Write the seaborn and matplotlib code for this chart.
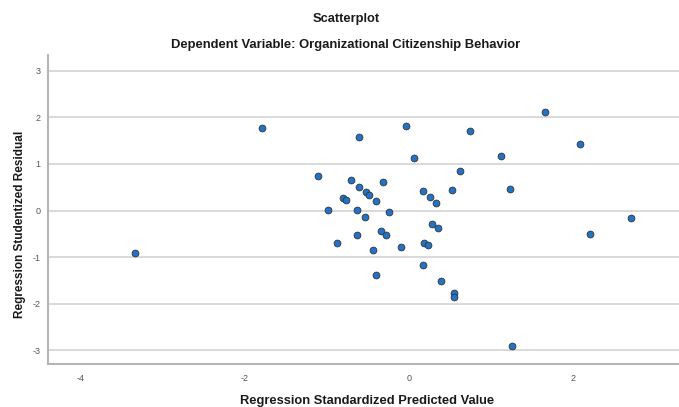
import pandas as pd
import matplotlib.pyplot as plt
import seaborn as sns

# valores
pred_std = [-3.33, -1.79, -1.11, -0.99, -0.88, -0.80, -0.76, -0.70, -0.63, -0.63,
            -0.61, -0.61, -0.53, -0.52, -0.48, -0.44, -0.40, -0.40, -0.34, -0.31,
            -0.28, -0.24, -0.09, -0.04, 0.06, 0.17, 0.17, 0.18, 0.23, 0.26,
            0.28, 0.33, 0.35, 0.39, 0.52, 0.55, 0.55, 0.62, 0.74, 1.12,
            1.23, 1.26, 1.66, 2.09, 2.21, 2.71]
resid_stud = [-0.91, 1.77, 0.74, 0.02, -0.69, 0.27, 0.22, 0.65, 0.01, -0.52,
              1.57, 0.51, -0.14, 0.39, 0.33, -0.85, 0.21, -1.38, -0.43, 0.61,
              -0.52, -0.04, -0.79, 1.82, 1.12, 0.42, -1.17, -0.70, -0.74, 0.29,
              -0.29, 0.17, -0.38, -1.52, 0.44, -1.76, -1.85, 0.85, 1.70, 1.18,
              0.46, -2.91, 2.11, 1.43, -0.51, -0.16]
x_ticks = [-4, -2, 0, 2]
y_ticks = [-3, -2, -1, 0, 1, 2, 3]

df = pd.DataFrame({'pred': pred_std, 'resid': resid_stud})

sns.set_style('white')
plt.rcParams['font.family'] = ['Liberation Sans', 'DejaVu Sans']
plt.rcParams['axes.unicode_minus'] = False

fig = plt.figure(figsize=(6.79, 4.07), dpi=100)
ax = fig.add_axes([0.070, 0.106, 0.930, 0.759])

ax.grid(axis='y', color='#d9d9d9', linewidth=1.4, zorder=0)
ax.set_axisbelow(True)

sns.scatterplot(data=df, x='pred', y='resid', s=24, color='#1f74c6',
                edgecolor='#333333', linewidth=0.6, ax=ax, zorder=3)

ax.set_xlim(-4.40, 3.29)
ax.set_ylim(-3.29, 3.34)
ax.set_xticks(x_ticks)
ax.set_yticks(y_ticks)
ax.tick_params(axis='both', length=0, labelsize=6.5, labelcolor='#555555')
ax.tick_params(axis='x', pad=7)
ax.tick_params(axis='y', pad=5)

for lado in ['top', 'right']:
    ax.spines[lado].set_visible(False)
for lado in ['left', 'bottom']:
    ax.spines[lado].set_color('#b5b5b5')
    ax.spines[lado].set_linewidth(1.5)

ax.set_xlabel('Regression Standardized Predicted Value', fontsize=9.3,
              fontweight='bold', color='#1a1a1a')
ax.xaxis.set_label_coords(0.506, -0.12)
ax.xaxis.label.set_va('center')
ax.set_ylabel('Regression Studentized Residual', fontsize=8.5,
              fontweight='bold', color='#1a1a1a')
ax.yaxis.set_label_coords(-0.034, 0.45)

fig.text(346 / 679, 1 - 19 / 407, 'Scatterplot', ha='center', va='center',
         fontsize=9.3, fontweight='bold', color='#1a1a1a')
fig.text(346 / 679, 1 - 45 / 407, 'Dependent Variable: Organizational Citizenship Behavior',
         ha='center', va='center', fontsize=9.4, fontweight='bold', color='#1a1a1a')

fig.savefig('out.png', dpi=100)
plt.close(fig)
